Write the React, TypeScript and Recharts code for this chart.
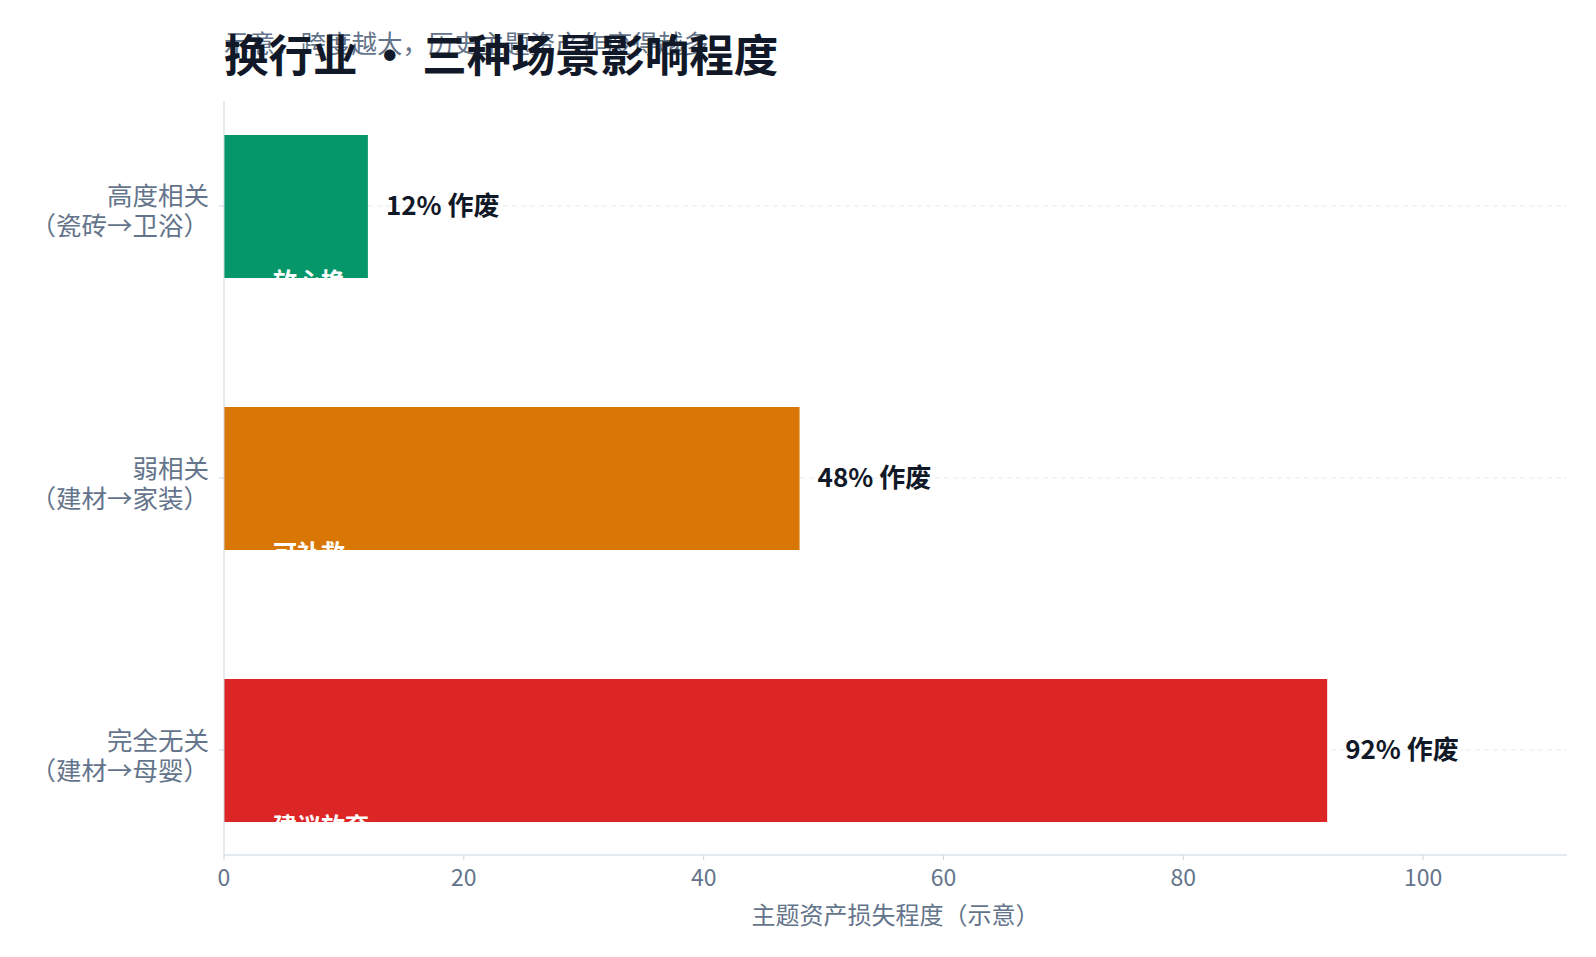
import React from "react";
import {
  BarChart,
  Bar,
  XAxis,
  YAxis,
  CartesianGrid,
  Cell,
  LabelList,
  Label,
} from "recharts";

const categoryNames = ["高度相关", "弱相关", "完全无关"];
const categoryPairs = ["（瓷砖→卫浴）", "（建材→家装）", "（建材→母婴）"];
const lossValues = [12, 48, 92];
const verdicts = ["放心换", "可补救", "建议放弃"];
const barColors = ["#059669", "#d97706", "#dc2626"];
const xTicks = [0, 20, 40, 60, 80, 100];
const categoryTicks = [0, 1, 2];
const categoryDomain = [-0.386, 2.386];

const FONT = '"Noto Sans CJK SC", "Noto Sans", sans-serif';

const data = categoryNames.map((name, i) => ({
  idx: i,
  name,
  pair: categoryPairs[i],
  value: lossValues[i],
  verdict: verdicts[i],
}));

// grid lines only at the category centres (not at the plot edges)
function gridRows(args: any) {
  const { yAxis, offset } = args;
  if (yAxis && typeof yAxis.scale === "function") {
    return categoryTicks.map((t) => yAxis.scale(t));
  }
  const [d0, d1] = categoryDomain;
  return categoryTicks.map(
    (t) => offset.top + (offset.height * (t - d0)) / (d1 - d0)
  );
}

function CategoryTick(props: any) {
  const { x, y, payload } = props;
  const i = payload.value as number;
  return (
    <g>
      <text
        x={x}
        y={y - 12}
        textAnchor="end"
        dominantBaseline="central"
        fontSize={25.5}
        fill="#64748b"
        fontFamily={FONT}
      >
        {categoryNames[i]}
      </text>
      <text
        x={x}
        y={y + 18}
        textAnchor="end"
        dominantBaseline="central"
        fontSize={25.5}
        fill="#64748b"
        fontFamily={FONT}
      >
        {categoryPairs[i]}
      </text>
    </g>
  );
}

function ValueLabel(props: any) {
  const { x, y, width, height, value } = props;
  return (
    <text
      x={x + width + 18}
      y={y + height / 2 - 3}
      dominantBaseline="central"
      fontSize={26}
      fontWeight={700}
      fill="#111827"
      fontFamily={FONT}
    >
      {`${value}% 作废`}
    </text>
  );
}

function VerdictLabel(props: any) {
  const { x, y, height, value } = props;
  return (
    <text
      x={x + 49}
      y={y + height + 2}
      dominantBaseline="central"
      fontSize={24}
      fontWeight={700}
      fill="#ffffff"
      fontFamily={FONT}
    >
      {value}
    </text>
  );
}

export default function App() {
  return (
    <div
      style={{
        position: "absolute",
        left: 0,
        top: 0,
        width: 1596,
        height: 957,
        background: "#ffffff",
        fontFamily: FONT,
      }}
    >
      <BarChart
        width={1596}
        height={957}
        data={data}
        layout="vertical"
        margin={{ top: 101, right: 29, bottom: 0, left: 0 }}
      >
        <CartesianGrid
          horizontal={true}
          vertical={false}
          stroke="#e8ebf0"
          strokeDasharray="5 4"
          horizontalCoordinatesGenerator={gridRows}
        />
        <XAxis
          type="number"
          domain={[0, 112]}
          ticks={xTicks}
          allowDataOverflow
          height={102}
          stroke="#cbd5e1"
          tickSize={5}
          tickMargin={10}
          tick={{ fill: "#64748b", fontSize: 23, fontFamily: FONT }}
        >
          <Label
            content={(p: any) => {
              const vb = p.viewBox;
              return (
                <text
                  x={vb.x + vb.width / 2}
                  y={913}
                  textAnchor="middle"
                  dominantBaseline="central"
                  fontSize={24}
                  fill="#64748b"
                  fontFamily={FONT}
                >
                  主题资产损失程度（示意）
                </text>
              );
            }}
          />
        </XAxis>
        <YAxis
          type="number"
          dataKey="idx"
          domain={categoryDomain}
          ticks={categoryTicks}
          allowDataOverflow
          width={224}
          stroke="#cbd5e1"
          tickSize={5}
          tickMargin={10}
          tick={<CategoryTick />}
        />
        <Bar dataKey="value" barSize={143} isAnimationActive={false}>
          {data.map((d, i) => (
            <Cell key={d.name} fill={barColors[i]} />
          ))}
          <LabelList dataKey="value" content={<ValueLabel />} />
          <LabelList dataKey="verdict" content={<VerdictLabel />} />
        </Bar>
      </BarChart>
      <svg
        width={1596}
        height={100}
        style={{ position: "absolute", left: 0, top: 0, pointerEvents: "none" }}
      >
        <text
          x={224}
          y={41}
          dominantBaseline="central"
          fontSize={25.5}
          fill="#64748b"
          fontFamily={FONT}
        >
          示意：跨度越大，历史主题资产作废得越多
        </text>
        <text
          x={224}
          y={52}
          dominantBaseline="central"
          fontSize={44.5}
          fontWeight={700}
          fill="#111827"
          fontFamily={FONT}
        >
          换行业 · 三种场景影响程度
        </text>
      </svg>
    </div>
  );
}
